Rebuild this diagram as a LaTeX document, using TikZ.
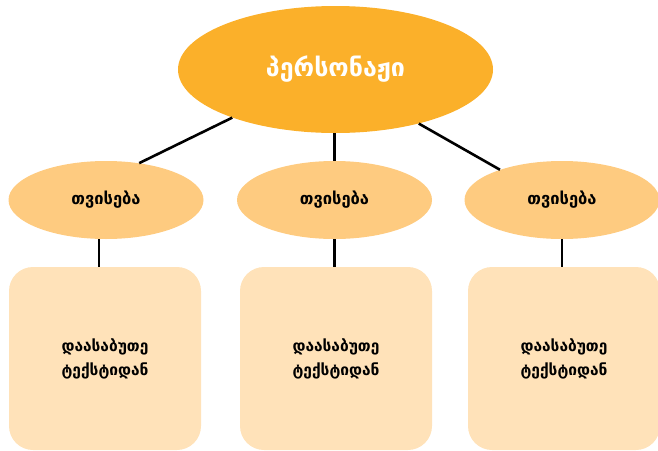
\documentclass[tikz,border=0pt]{standalone}
\usepackage{fontspec}
\setmainfont{DejaVu Sans}
\usetikzlibrary{shapes.geometric}
\definecolor{topc}{RGB}{251,176,42}
\definecolor{midc}{RGB}{254,203,128}
\definecolor{boxc}{RGB}{255,226,185}
\tikzset{
  topell/.style={ellipse, fill=topc, minimum width=315pt, minimum height=127pt, inner sep=0pt, text=white, font=\bfseries\fontsize{25}{30}\selectfont},
  midell/.style={ellipse, fill=midc, minimum width=195pt, minimum height=78pt, inner sep=0pt, font=\bfseries\fontsize{16.5}{20}\selectfont},
  boxn/.style={rectangle, rounded corners=24pt, fill=boxc, minimum width=192pt, minimum height=183pt, inner sep=0pt, align=center, font=\bfseries\fontsize{15.5}{24}\selectfont},
  conn/.style={line width=2.6pt, black}
}
\begin{document}
\begin{tikzpicture}[x=1pt,y=-1pt]
\useasboundingbox (0,0) rectangle (658,450);
\clip (0,0) rectangle (658,450);
\node[topell] (top) at (335.5,69.5) {პერსონაჟი};
\node[midell] (m1) at (106,200) {თვისება};
\node[midell] (m2) at (334.5,200) {თვისება};
\node[midell] (m3) at (562,200) {თვისება};
\node[boxn] (b1) at (105,358.5) {დაასაბუთე\\ტექსტიდან};
\node[boxn] (b2) at (336,358.5) {დაასაბუთე\\ტექსტიდან};
\node[boxn] (b3) at (564,358.5) {დაასაბუთე\\ტექსტიდან};
\draw[conn] (top.205) -- (m1.48);
\draw[conn] (m2.north |- top.south) -- (m2.north);
\draw[conn] (top.327) -- (m3.154);
\draw[conn] ([xshift=-7pt]m1.south) -- ([xshift=-6pt]b1.north);
\draw[conn] (m2.south) -- (m2.south |- b2.north);
\draw[conn] (m3.south) -- (m3.south |- b3.north);
\end{tikzpicture}
\end{document}
